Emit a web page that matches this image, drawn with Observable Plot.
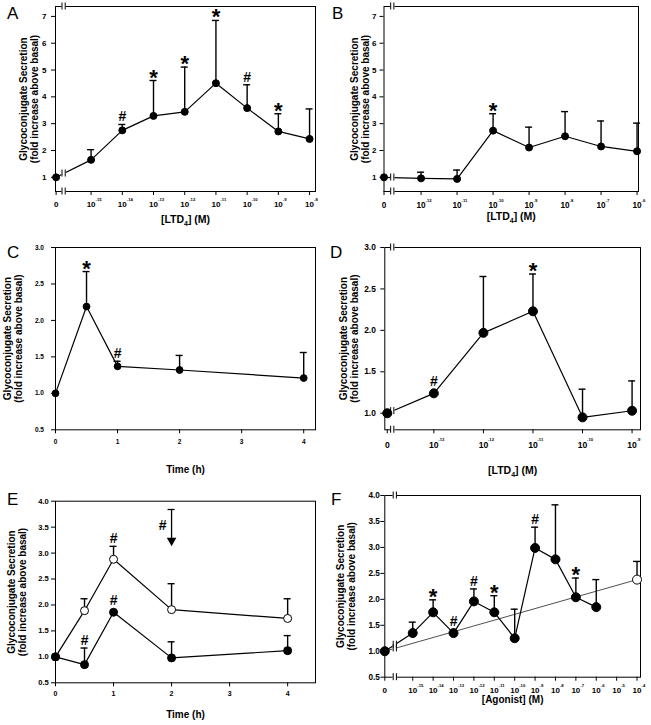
<!DOCTYPE html>
<html><head><meta charset="utf-8">
<script src="https://cdn.jsdelivr.net/npm/d3@7"></script>
<script src="https://cdn.jsdelivr.net/npm/@observablehq/plot@0.6"></script>
<style>
body{margin:0;background:#fff;}
#wrap{position:relative;width:651px;height:725px;font-family:"Liberation Sans",Arial,Helvetica,sans-serif;overflow:hidden;}
.p{position:absolute;}
.lab{position:absolute;z-index:5;font-size:17px;line-height:17px;font-family:"Liberation Sans",Arial,sans-serif;color:#000;}
</style></head><body><div id="wrap"></div>
<script>
// ---------- DATA ----------
// Panel A: LTD4 concentration-response (exponent of M; null = basal "0")
const aExp  = [null, -15, -14, -13, -12, -11, -10, -9, -8];
const aMean = [1.0, 1.65, 2.75, 3.29, 3.44, 4.51, 3.58, 2.71, 2.43];
const aSem  = [0, 0.38, 0.22, 1.32, 1.67, 2.34, 0.87, 0.66, 1.12];
const aSig  = ["", "", "#", "*", "*", "*", "#", "*", ""];

// Panel B
const bExp  = [null, -12, -11, -10, -9, -8, -7, -6];
const bMean = [1.0, 0.96, 0.94, 2.74, 2.11, 2.53, 2.15, 1.97];
const bSem  = [0, 0.23, 0.33, 0.63, 0.76, 0.92, 0.95, 1.05];
const bSig  = ["", "", "", "*", "", "", "", ""];

// Panel C: time course (h)
const cTime = [0, 0.5, 1, 2, 4];
const cMean = [1.0, 2.19, 1.37, 1.32, 1.21];
const cSem  = [0, 0.48, 0.07, 0.20, 0.35];
const cSig  = ["", "*", "#", "", ""];

// Panel D
const dExp  = [null, -13, -12, -11, -10, -9];
const dMean = [1.0, 1.24, 1.97, 2.23, 0.95, 1.03];
const dSem  = [0, 0, 0.68, 0.45, 0.34, 0.36];
const dSig  = ["", "#", "", "*", "", ""];

// Panel E: time course, open and filled series
const eTime       = [0, 0.5, 1, 2, 4];
const eOpenMean   = [1.0, 1.89, 2.88, 1.91, 1.74];
const eOpenSem    = [0, 0.23, 0.25, 0.50, 0.38];
const eOpenSig    = ["", "", "#", "", ""];
const eFilledMean = [1.0, 0.85, 1.86, 0.98, 1.12];
const eFilledSem  = [0, 0.32, 0, 0.31, 0.29];
const eFilledSig  = ["", "#", "#", "", ""];
const eArrowX = 2, eArrowFrom = 3.84, eArrowTo = 3.24, eArrowSig = "#";

// Panel F: agonist concentration-response
const fExp  = [null, -15, -14, -13, -12, -11, -10, -9, -8, -7, -6];
const fMean = [1.0, 1.35, 1.75, 1.35, 1.96, 1.75, 1.25, 2.99, 2.77, 2.04, 1.85];
const fSem  = [0, 0.21, 0.24, 0, 0.24, 0.32, 0.56, 0.40, 1.05, 0.37, 0.53];
const fSig  = ["", "", "*", "#", "#", "*", "", "#", "", "*", ""];
const fOpenExp = [-4], fOpenMean = [2.38], fOpenSem = [0.35], fOpenSig = [""];
const fFitExp = [null, -4], fFitVal = [1.0, 2.38];

const yLabelText = "Glycoconjugate Secretion\n(fold increase above basal)";

// ---------- HELPERS ----------
const FONT = '"Liberation Sans", Arial, Helvetica, sans-serif';
const wrap = document.getElementById("wrap");

function rows(xs, means, sems, sigs, zero) {
  return xs.map((x, i) => ({x: x === null ? zero : x, mean: means[i], sem: sems ? sems[i] : 0, sig: sigs ? sigs[i] : ""}));
}
function lineYAt(r, xb) {
  for (let i = 0; i < r.length - 1; i++) {
    const a = r[i], b = r[i + 1];
    if ((a.x - xb) * (b.x - xb) <= 0) return a.mean + (b.mean - a.mean) * (xb - a.x) / (b.x - a.x);
  }
  return null;
}
function breakMarks(brk, ys) {
  const d = ys.map(y => ({x: brk, y}));
  const o = {x: "x", y1: "y", y2: "y"};
  return [
    Plot.ruleX(d, {...o, insetTop: -4.5, insetBottom: -4.5, stroke: "white", strokeWidth: 4.5}),
    Plot.ruleX(d, {...o, insetTop: -3.5, insetBottom: -3.5, stroke: "black", strokeWidth: 1, dx: -1.6}),
    Plot.ruleX(d, {...o, insetTop: -3.5, insetBottom: -3.5, stroke: "black", strokeWidth: 1, dx: 1.6})
  ];
}
function sigMarks(r) {
  const s = r.filter(d => d.sig).map(d => ({...d, top: d.mean + d.sem}));
  const o = {x: "x", y: "top", text: "sig", lineAnchor: "bottom", fontWeight: "bold", fill: "black"};
  return [
    Plot.text(s.filter(d => d.sig === "*"), {...o, fontSize: 22, dy: 4}),
    Plot.text(s.filter(d => d.sig === "#" && d.sem > 0), {...o, fontSize: 14, dy: -3}),
    Plot.text(s.filter(d => d.sig === "#" && d.sem === 0), {...o, fontSize: 14, dy: -7})
  ];
}
function subscriptify(svg) {
  svg.querySelectorAll("text").forEach(t => {
    if (t.children.length === 0 && t.textContent.includes("\u2084")) {
      const [a, b] = t.textContent.split("\u2084");
      t.textContent = "";
      const ns = "http://www.w3.org/2000/svg";
      const t1 = document.createElementNS(ns, "tspan"); t1.textContent = a;
      const t2 = document.createElementNS(ns, "tspan"); t2.textContent = "4";
      t2.setAttribute("dy", "3"); t2.setAttribute("font-size", "7");
      const t3 = document.createElementNS(ns, "tspan"); t3.textContent = b; t3.setAttribute("dy", "-3");
      t.append(t1, t2, t3);
    }
  });
}

function panel(c) {
  const [mt, mr, mb, ml] = c.margin;
  const marks = [Plot.frame({stroke: "black", strokeWidth: 1})];
  marks.push(Plot.axisY(c.yTicks, {anchor: "left", tickSize: 4, tickPadding: c.yPad, tickFormat: c.yFmt, fontSize: c.yFont, fontWeight: "bold", label: null}));
  marks.push(Plot.axisX(c.xTicks, {anchor: "bottom", tickSize: 4, tickPadding: c.tickPad, tickFormat: c.xFmt, fontSize: c.xFont, fontWeight: "bold", label: null}));
  if (c.expTicks) marks.push(Plot.axisX(c.expTicks, {anchor: "bottom", tickSize: 0, tickPadding: 4 + c.tickPad, tickFormat: e => "-" + Math.abs(e), fontSize: 4.2, fontWeight: "bold", textAnchor: "start", dx: 4.5, dy: -3, label: null}));
  // error bars
  for (const s of c.series) {
    const bars = s.rows.filter(d => d.sem > 0);
    marks.push(Plot.ruleX(bars, {x: "x", y1: "mean", y2: d => d.mean + d.sem, strokeWidth: 1.4}));
    marks.push(Plot.ruleY(bars, {x1: "x", x2: "x", y: d => d.mean + d.sem, insetLeft: -3.5, insetRight: -3.5, strokeWidth: 1.4}));
  }
  if (c.fit) marks.push(Plot.line(c.fit, {x: "x", y: "mean", stroke: "#222", strokeWidth: 0.8}));
  for (const s of c.series) if (s.line !== false) marks.push(Plot.line(s.rows, {x: "x", y: "mean", strokeWidth: 1.2}));
  if (c.brk !== undefined) {
    const ys = [c.yDomain[0], c.yDomain[1]];
    for (const r of c.breakLines) ys.push(lineYAt(r, c.brk));
    marks.push(...breakMarks(c.brk, ys));
  }
  if (c.extra) marks.push(...c.extra);
  for (const s of c.series) marks.push(Plot.dot(s.rows, {x: "x", y: "mean", r: s.r, fill: s.fill, stroke: "black", strokeWidth: 1}));
  for (const s of c.series) marks.push(...sigMarks(s.rows));
  marks.push(Plot.text([c.xLabel], {text: d => d, frameAnchor: "bottom", textAnchor: "middle", dy: c.xLabelDy, fontSize: c.xLabelFont || 10.5, fontWeight: "bold", lineAnchor: "middle"}));
  marks.push(Plot.text([yLabelText], {text: d => d, frameAnchor: "left", textAnchor: "middle", rotate: -90, dx: c.yLabelDx, fontSize: 10, fontWeight: "bold", lineAnchor: "middle", lineHeight: 1.1}));
  const svg = Plot.plot({
    width: c.width, height: c.height,
    marginTop: mt, marginRight: mr, marginBottom: mb, marginLeft: ml,
    x: {type: "linear", domain: c.xDomain, axis: null},
    y: {type: "linear", domain: c.yDomain, axis: null},
    style: {fontFamily: FONT, fontWeight: "bold", color: "black", background: "transparent", overflow: "visible"},
    marks
  });
  subscriptify(svg);
  const div = document.createElement("div");
  div.className = "p"; div.style.left = c.left + "px"; div.style.top = c.top + "px";
  div.appendChild(svg);
  wrap.appendChild(div);
  const lab = document.createElement("div");
  lab.className = "lab"; lab.textContent = c.letter;
  lab.style.left = c.letterPos[0] + "px"; lab.style.top = c.letterPos[1] + "px";
  wrap.appendChild(lab);
}

const tenFmt = zero => x => x === zero ? "0" : "10";
const oneDec = d3.format(".1f");
const range = (a, b, s) => d3.range(a, b + s / 2, s);

// ---------- PANELS ----------
{ // A
  const zero = -16.12;
  const r = rows(aExp, aMean, aSem, aSig, zero);
  panel({letter: "A", letterPos: [7, 4.5], left: 0, top: 0, width: 325, height: 240, margin: [6, 10, 49, 55],
    xDomain: [-16.14, -7.81], yDomain: [0.47, 7.37], yTicks: range(1, 7, 1), yFmt: d3.format("d"), yFont: 8, yPad: 5,
    xTicks: [zero, ...aExp.slice(1)], xFmt: tenFmt(zero), expTicks: aExp.slice(1), xFont: 8, tickPad: 6,
    series: [{rows: r, fill: "black", r: 3.5}], brk: -15.88, breakLines: [r],
    xLabel: "[LTD\u2084] (M)", xLabelDy: 28.5, yLabelDx: -27});
}
{ // B
  const zero = -13.03;
  const r = rows(bExp, bMean, bSem, bSig, zero);
  panel({letter: "B", letterPos: [332, 4.5], left: 325, top: 0, width: 326, height: 240, margin: [6, 13, 49, 58.5],
    xDomain: [-13.03, -5.96], yDomain: [0.47, 7.37], yTicks: range(1, 7, 1), yFmt: d3.format("d"), yFont: 8, yPad: 3.6,
    xTicks: [zero, ...bExp.slice(1)], xFmt: tenFmt(zero), expTicks: bExp.slice(1), xFont: 8.2, tickPad: 7,
    series: [{rows: r, fill: "black", r: 3.5}], brk: -12.80, breakLines: [r],
    xLabel: "[LTD\u2084] (M)", xLabelDy: 25, yLabelDx: -24.5});
}
{ // C
  const r = rows(cTime, cMean, cSem, cSig, 0);
  panel({letter: "C", letterPos: [7, 243.6], left: 0, top: 240, width: 325, height: 240, margin: [7, 10, 50.7, 55],
    xDomain: [0, 4.19], yDomain: [0.5, 3.0], yTicks: range(0.5, 3.0, 0.5), yFmt: oneDec, yFont: 6.5, yPad: 7.5,
    xTicks: [0, 1, 2, 3, 4], xFmt: d => String(d), xFont: 6.5, tickPad: 5.5,
    series: [{rows: r, fill: "black", r: 3.4}],
    xLabel: "Time (h)", xLabelDy: 40, xLabelFont: 10, yLabelDx: -42.5});
}
{ // D
  const zero = -13.94;
  const r = rows(dExp, dMean, dSem, dSig, zero);
  panel({letter: "D", letterPos: [330, 244], left: 325, top: 240, width: 326, height: 240, margin: [7, 11, 50.7, 59.3],
    xDomain: [-13.99, -8.83], yDomain: [0.8, 3.0], yTicks: range(1, 3, 0.5), yFmt: oneDec, yFont: 8.4, yPad: 5,
    xTicks: [zero, ...dExp.slice(1)], xFmt: tenFmt(zero), expTicks: dExp.slice(1), xFont: 8.6, tickPad: 7.7,
    series: [{rows: r, fill: "black", r: 4.5}], brk: -13.84, breakLines: [r],
    xLabel: "[LTD\u2084] (M)", xLabelDy: 41, yLabelDx: -35.5});
}
{ // E
  const ro = rows(eTime, eOpenMean, eOpenSem, eOpenSig, 0);
  const rf = rows(eTime, eFilledMean, eFilledSem, eFilledSig, 0);
  const arrow = [{x: eArrowX, from: eArrowFrom, to: eArrowTo, sig: eArrowSig}];
  const extra = [
    Plot.ruleX(arrow, {x: "x", y1: "from", y2: "to", strokeWidth: 1.3}),
    Plot.ruleY(arrow, {x1: "x", x2: "x", y: "from", insetLeft: -3.5, insetRight: -3.5, strokeWidth: 1.3}),
    Plot.dot(arrow, {x: "x", y: "to", symbol: "triangle", rotate: 180, r: 2.6, fill: "black", stroke: "black"}),
    Plot.text(arrow, {x: "x", y: d => (d.from + d.to) / 2, text: "sig", textAnchor: "end", dx: -5, fontSize: 14, fontWeight: "bold"})
  ];
  panel({letter: "E", letterPos: [7, 490.6], left: 0, top: 480, width: 325, height: 245, margin: [20.7, 10, 42.7, 55],
    xDomain: [0, 4.48], yDomain: [0.5, 4.0], yTicks: range(0.5, 4.0, 0.5), yFmt: oneDec, yFont: 7.6, yPad: 2.7,
    xTicks: [0, 1, 2, 3, 4], xFmt: d => String(d), xFont: 7, tickPad: 4.4,
    series: [{rows: ro, fill: "white", r: 4}, {rows: rf, fill: "black", r: 4}], extra,
    xLabel: "Time (h)", xLabelDy: 32, xLabelFont: 10, yLabelDx: -39});
}
{ // F
  const zero = -16.37;
  const r = rows(fExp, fMean, fSem, fSig, zero);
  const ro = rows(fOpenExp, fOpenMean, fOpenSem, fOpenSig, zero);
  const fit = rows(fFitExp, fFitVal, null, null, zero);
  panel({letter: "F", letterPos: [331, 490.6], left: 325, top: 480, width: 326, height: 245, margin: [15, 11, 48.3, 59.3],
    xDomain: [-16.37, -3.83], yDomain: [0.5, 4.0], yTicks: range(0.5, 4.0, 0.5), yFmt: oneDec, yFont: 8.2, yPad: 1,
    xTicks: [zero, ...d3.range(-15, -3)], xFmt: tenFmt(zero), expTicks: d3.range(-15, -3), xFont: 8, tickPad: 6,
    series: [{rows: r, fill: "black", r: 4.5}, {rows: ro, fill: "white", r: 4.5, line: false}], fit,
    brk: -15.88, breakLines: [fit, r],
    xLabel: "[Agonist] (M)", xLabelDy: 23, xLabelFont: 10, yLabelDx: -38.5});
}
</script></body></html>
